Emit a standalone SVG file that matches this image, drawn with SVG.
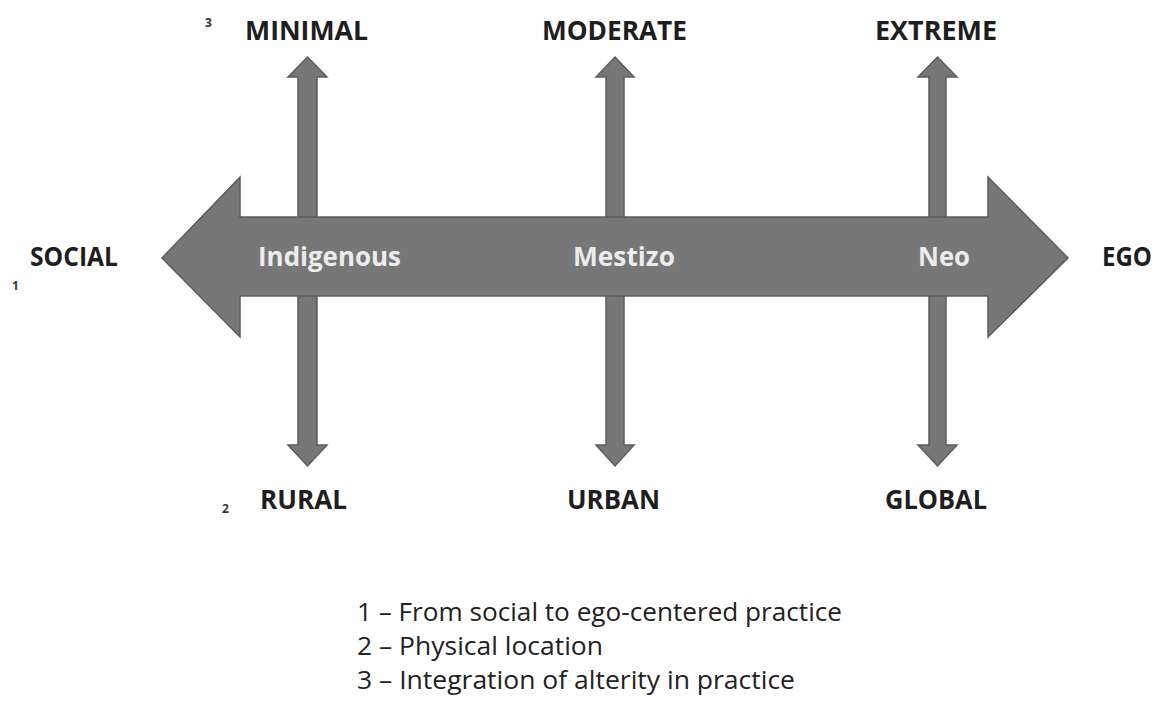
<svg xmlns="http://www.w3.org/2000/svg" width="1162" height="704" viewBox="0 0 1162 704">
<style>
.arr{fill:#777777;stroke:#5c5c5c;stroke-width:1.5;stroke-linejoin:miter}
.lbl{font-family:"Open Sans","Liberation Sans",sans-serif;font-weight:bold;font-size:27px;fill:#1e1e1e}
.in{font-family:"Open Sans","Liberation Sans",sans-serif;font-weight:bold;font-size:27px;fill:#ececec}
.sm{font-family:"Open Sans","Liberation Sans",sans-serif;font-size:12px;font-weight:bold;fill:#333}
.leg{font-family:"Open Sans","Liberation Sans",sans-serif;font-size:26px;fill:#222222}
</style>
<rect width="1162" height="704" fill="#ffffff"/>
<g id="connectors">
<path id="v1" class="arr" d="M307.5,57 L327,77 L317,77 L317,445 L327,445 L307.5,466 L288,445 L298,445 L298,77 L288,77 Z"/>
<path id="v2" class="arr" d="M615,57 L634,77 L624,77 L624,445 L634,445 L615,466 L596,445 L606,445 L606,77 L596,77 Z"/>
<path id="v3" class="arr" d="M937.5,57 L957,77 L946,77 L946,445 L957,445 L937.5,466 L918,445 L929,445 L929,77 L918,77 Z"/>
<path id="h" class="arr" d="M162,258 L240,177 L240,217 L988,217 L988,177 L1068,258 L988,337 L988,296 L240,296 L240,337 Z"/>
</g>
<g id="node-indigenous"><text class="in" x="258" y="266" textLength="143" lengthAdjust="spacingAndGlyphs">Indigenous</text></g>
<g id="node-mestizo"><text class="in" x="573" y="266" textLength="102" lengthAdjust="spacingAndGlyphs">Mestizo</text></g>
<g id="node-neo"><text class="in" x="918" y="266" textLength="52" lengthAdjust="spacingAndGlyphs">Neo</text></g>
<g id="node-social"><text class="lbl" x="30" y="266" textLength="88" lengthAdjust="spacingAndGlyphs">SOCIAL</text><text class="sm" x="12" y="290">1</text></g>
<g id="node-ego"><text class="lbl" x="1102" y="266" textLength="50" lengthAdjust="spacingAndGlyphs">EGO</text></g>
<g id="node-minimal"><text class="lbl" x="245" y="40" textLength="123" lengthAdjust="spacingAndGlyphs">MINIMAL</text><text class="sm" x="205" y="27">3</text></g>
<g id="node-moderate"><text class="lbl" x="542" y="40" textLength="145" lengthAdjust="spacingAndGlyphs">MODERATE</text></g>
<g id="node-extreme"><text class="lbl" x="875" y="40" textLength="122" lengthAdjust="spacingAndGlyphs">EXTREME</text></g>
<g id="node-rural"><text class="lbl" x="260" y="509" textLength="87" lengthAdjust="spacingAndGlyphs">RURAL</text><text class="sm" x="222" y="513">2</text></g>
<g id="node-urban"><text class="lbl" x="567" y="509" textLength="93" lengthAdjust="spacingAndGlyphs">URBAN</text></g>
<g id="node-global"><text class="lbl" x="885" y="509" textLength="102" lengthAdjust="spacingAndGlyphs">GLOBAL</text></g>
<g id="legend">
<text class="leg" x="357" y="621" textLength="485" lengthAdjust="spacingAndGlyphs">1 – From social to ego-centered practice</text>
<text class="leg" x="357" y="655" textLength="246" lengthAdjust="spacingAndGlyphs">2 – Physical location</text>
<text class="leg" x="357" y="689" textLength="438" lengthAdjust="spacingAndGlyphs">3 – Integration of alterity in practice</text>
</g>
</svg>
